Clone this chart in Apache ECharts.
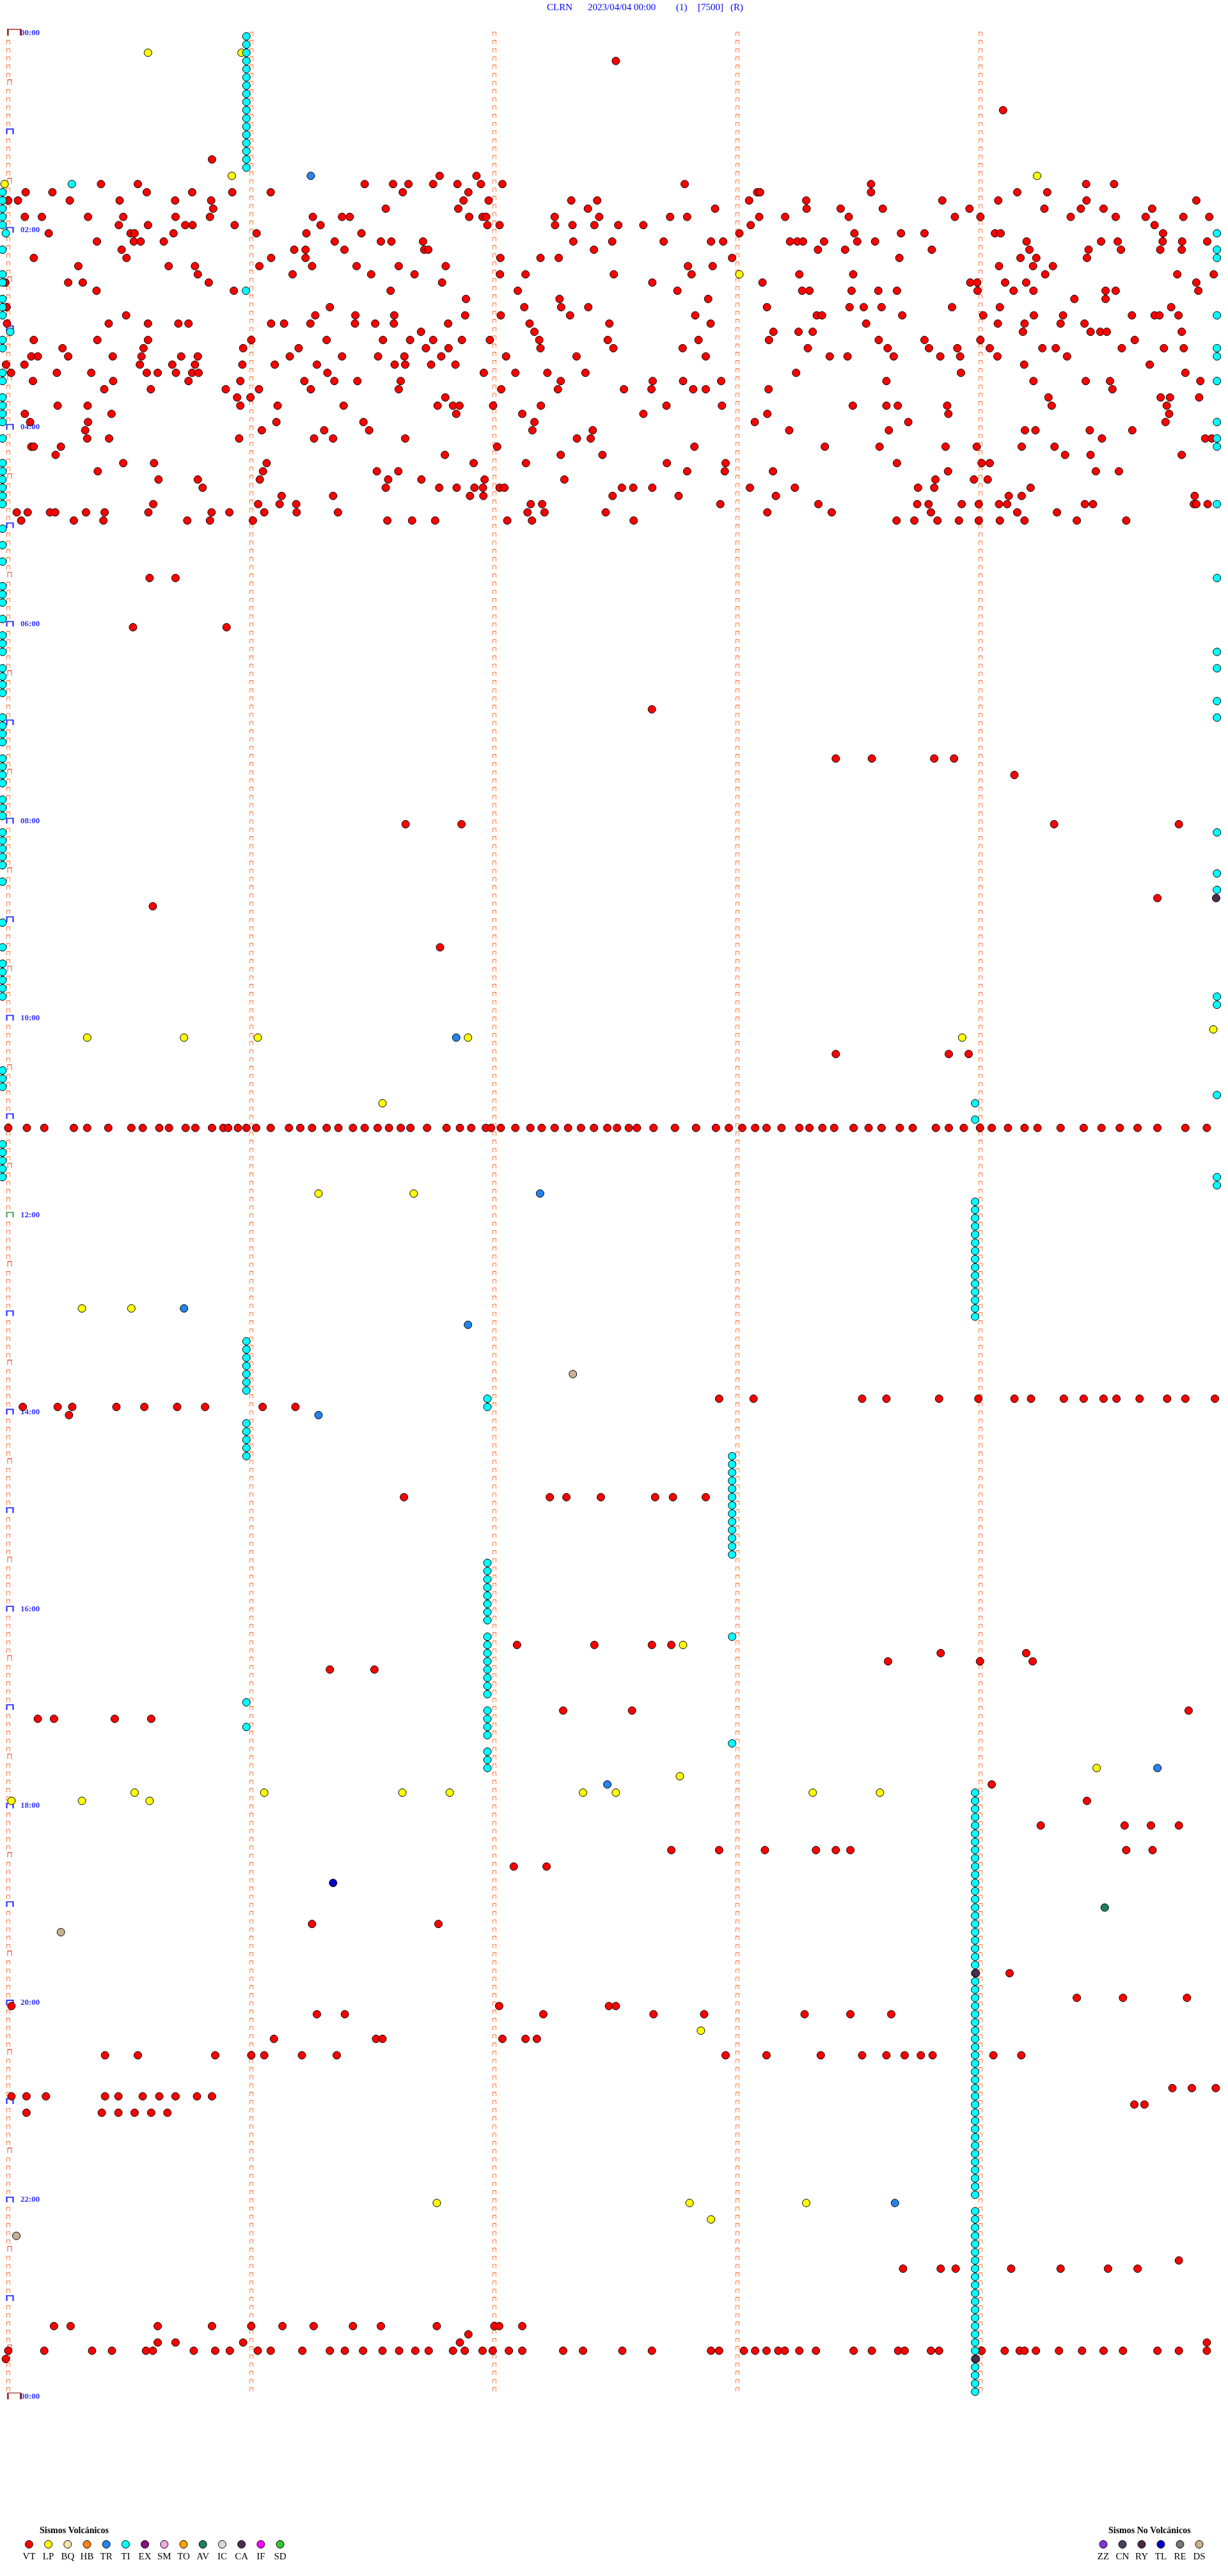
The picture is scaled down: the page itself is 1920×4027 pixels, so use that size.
<!DOCTYPE html>
<html><head><meta charset="utf-8">
<script src="https://cdn.jsdelivr.net/npm/echarts@6/dist/echarts.min.js"></script>
<style>html,body{margin:0;padding:0;background:#fff}#c{width:1920px;height:4027px}</style>
</head><body><div id="c"></div>
<script>
// ---- DATA ----
// Each helicorder line covers 5 minutes (300 s); 288 lines per day.
// Event lists: [lineIndex, second, second, ...]
const TITLE_PARTS = ['CLRN', '2023/04/04 00:00', '(1)', '[7500]', '(R)'];
const HOUR_LABELS = ['00:00','02:00','04:00','06:00','08:00','10:00','12:00','14:00','16:00','18:00','20:00','22:00','00:00'];
const LINES_PER_DAY = 288;
const LINE_SECONDS = 300;

const VT = [
 [3,151.4],[9,247],[15,51.7],
 [17,107.9,117.0],
 [18,24.3,33.4,89.4,96.4,100.2,106.3,112.3,118.1,123.4,168.4,214.4,267.5,274.4],
 [19,5.7,12.3,35.6,46.8,56.7,66.2,98.8,115.0,186.3,187.0,214.4,250.5,257.9],
 [20,1.4,3.8,16.6,28.9,42.6,51.5,113.8,120.0,140.4,146.8,184.3,198.4,232.0,245.8,267.6,294.7],
 [21,52.0,94.6,112.5,144.5,175.9,198.5,206.9,217.3,238.7,257.2,266.2,271.8,283.8],
 [22,5.5,9.7,21.1,29.8,42.7,51.2,76.6,83.8,85.7,115.2,118.5,119.4,136.3,147.3,164.8,169.0,186.8,193.2,208.9,235.1,241.4,263.7,274.8,282.2,291.5,297.9],
 [23,28.7,35.9,45.1,46.9,57.3,78.5,119.7,122.7,136.4,140.7,146.1,152.0,158.2,184.7,284.4],
 [24,11.4,31.6,32.6,42.2,62.7,75.0,88.6,181.9,210.3,221.8,227.6,245.0,246.4,286.5],
 [25,23.3,32.4,34.1,39.8,82.0,93.4,96.0,103.8,140.9,150.5,163.2,174.9,177.9,194.4,196.2,197.6,202.8,211.0,215.4,252.8,271.2,275.3,286.4,291.2,297.4],
 [26,29.4,72.0,74.8,84.4,104.1,105.1,146.0,201.3,208.0,229.4,253.5,268.1,276.1,285.8,291.1],
 [27,7.7,30.6,66.3,74.8,122.9,132.8,137.3,180.1,221.4,251.3,255.2,267.7],
 [28,18.7,41.0,47.5,63.4,76.4,87.4,97.8,109.4,169.2,175.3,246.0,254.4,259.3],
 [29,48.2,71.6,91.0,101.7,122.8,129.1,150.9,170.1,196.7,210.0,257.4,290.0,299.0],
 [30,0.7,16.2,19.8,50.9,108.5,160.4,187.6,238.9,240.6,247.5,252.7,294.7],
 [31,23.2,57.1,95.8,127.2,166.6,197.4,199.2,209.6,216.2,220.8,240.7,249.6,254.5,272.3,274.8,295.2],
 [32,114.4,137.5,174.2,264.6,272.3],
 [33,1.0,80.8,128.8,137.9,144.6,188.7,209.1,212.6,217.0,234.4,246.2,288.5],
 [34,30.5,77.2,87.1,96.7,114.2,123.0,140.1,171.0,201.0,202.3,222.1,242.1,254.6,261.8,278.8,284.4,285.6,290.3],
 [35,1.1,26.2,35.9,43.4,45.9,66.3,69.5,76.0,87.0,92.0,96.6,110.0,130.1,149.8,174.8,213.2,245.7,252.3,261.2,267.1],
 [36,103.3,131.3,190.3,196.5,200.0,251.9,268.6,271.0,272.6,291.1],
 [37,7.7,23.4,35.9,61.4,80.0,93.9,100.6,106.3,113.4,120.3,132.5,149.4,171.8,189.2,216.3,227.6,241.4,279.5],
 [38,14.8,34.8,59.4,73.1,104.5,110.1,132.8,150.8,167.9,198.8,218.5,228.7,235.7,243.7,256.7,260.0,276.3,286.7,291.6],
 [39,7.1,8.7,16.2,27.2,34.3,44.1,48.2,70.9,83.8,92.7,99.2,108.3,124.3,141.7,173.6,204.2,208.6,220.0,231.5,236.4,245.6,262.8],
 [40,0.85,5.4,33.9,41.9,47.5,59.2,67.2,77.6,96.8,99.4,105.8,111.8,252.2,283.2],
 [41,2.1,13.4,21.9,35.6,38.3,42.8,46.8,48.4,80.2,118.8,126.6,134.5,143.9,195.9,236.6,292.0],
 [42,7.5,27.3,45.9,58.7,74.5,81.9,87.6,98.3,137.8,160.5,168.0,177.4,218.2,254.5,267.4,273.4,295.7],
 [43,25.1,36.6,55.1,63.3,76.1,97.8,123.1,137.1,153.4,160.2,170.5,173.6,189.1,274.0],
 [44,57.9,61.2,109.3,258.2,285.9,288.2,295.4],
 [45,13.6,21.0,58.7,67.9,84.2,107.4,111.2,112.8,121.1,132.9,163.9,177.6,209.9,218.2,221.0,233.2,259.0,287.4],
 [46,5.5,26.9,112.0,128.3,158.2,188.8,233.5,288.0],
 [47,6.8,21.1,67.6,89.1,131.3,185.7,223.6,287.1],
 [48,20.4,64.0,79.4,90.5,130.8,145.7,194.2,218.8,252.4,255.0,268.4,278.9],
 [49,20.9,26.3,58.4,76.9,81.6,99.4,141.8,145.2,271.4,296.9,298.5],
 [50,7.1,7.7,14.4,122.1,170.8,203.0,216.5,232.8,240.5,251.6,259.7],
 [51,13.1,109.2,137.8,148.1,262.3,268.6,291.1],
 [52,29.8,37.4,65.2,116.3,129.2,164.0,178.5,220.8,241.7,243.7],
 [53,23.5,64.3,92.4,97.7,169.0,178.3,190.2,233.4,269.9,275.6],
 [54,38.5,48.2,63.5,95.2,103.4,119.0,138.7,230.3,239.8,243.2],
 [55,49.4,94.6,107.8,112.1,116.5,118.6,122.7,123.9,152.9,155.7,160.4,184.5,195.6,226.0,230.0,253.8],
 [56,68.9,81.6,115.4,118.7,150.6,166.9,190.9,248.4,251.6,294.3],
 [57,37.2,63.1,68.4,72.5,130.4,133.2,177.2,201.4,225.8,228.6,236.8,241.0,246.0,248.0,267.2,269.2,294.1,294.7,297.5],
 [58,3.5,6.2,11.7,13.0,20.6,25.2,36.0,51.6,56.0,64.6,72.6,82.8,129.6,133.8,148.9,188.8,204.7,229.2,250.5,260.3],
 [59,4.6,17.6,24.9,45.6,51.2,61.8,95.0,101.1,106.8,124.6,130.7,155.8,220.7,225.1,230.8,236.1,241.0,246.2,252.3,265.2,277.4],
 [66,36.3,42.7],[72,32.2,55.3],[82,160.3],[88,205.7,214.6,230.0,234.9],[90,249.8],
 [96,99.5,113.3,259.6,290.4],[105,285.1],[106,37.1],[111,108.0],[124,205.7,233.6,238.5],
 [133,1.4,6.0,10.3,17.6,20.9,26.1,31.8,34.6,38.7,41.1,45.2,47.6,51.7,54.5,55.7,58.1,60.2,62.6,66.2,70.7,73.5,76.4,80.0,82.9,86.5,89.4,92.6,95.4,98.3,100.7,104.8,109.6,112.9,115.7,119.3,120.6,123.0,126.6,130.3,133.1,136.3,139.6,142.8,146.0,149.3,151.7,154.6,156.6,160.7,166.0,171.2,176.1,179.3,182.6,185.8,188.6,192.3,196.7,199.2,202.4,205.3,210.1,213.8,217.0,221.5,224.7,230.4,233.6,237.3,241.3,244.2,248.2,252.3,255.5,261.2,266.9,271.3,275.8,280.2,285.1,292.0,297.3],
 [166,176.9,185.4,212.2,218.2,231.2,240.9,249.8,253.9,262.0,266.9,271.8,275.0,280.7,287.5,292.0,299.3],
 [167,5.0,13.6,17.2,28.1,35.0,43.1,50.0,64.2,72.3],
 [168,16.4],
 [178,99.1,135.1,139.2,147.7,161.1,165.5,173.6],
 [196,127.0,146.1,160.3,165.1],[197,231.6,252.7],[198,218.6,241.3,254.3],[199,80.8,91.8],
 [204,138.4,155.4,292.8],[205,8.7,12.7,27.7,36.7],[213,244.2],[215,267.7],
 [218,256.3,277.0,283.5,290.4],[221,165.1,176.9,188.2,200.8,205.7,209.3,277.4,283.9],[223,126.2,134.3],
 [230,76.4,107.6],[236,248.6],[239,265.2,276.6,292.4],[240,2.2,122.6,149.7,151.4],
 [241,77.6,84.5,133.5,160.7,173.2,198.0,209.3,219.4],[244,67.0,92.2,93.8,123.4,129.1,131.9],
 [246,25.3,33.4,52.5,61.4,64.6,73.9,82.5,178.5,188.6,202.0,212.2,218.2,222.7,226.7,229.6,244.6,251.5],
 [250,288.8,293.6,299.5],[251,2.2,5.9,10.7,25.3,28.6,34.6,38.7,42.7,48.0,51.7],[252,279.4,281.9],
 [253,5.9,24.5,28.6,32.6,36.7,40.7],
 [271,290.4],[272,222.3,231.6,235.3,249.0,261.2,272.9,280.2],
 [279,12.7,16.8,38.3,51.7,61.4,69.1,76.8,86.5,93.4,107.2,121.4,122.6,128.3],
 [280,115.0],[281,38.3,42.7,59.4,112.9,297.3],
 [282,1.4,10.3,22.1,27.0,35.4,37.1,47.2,52.5,56.1,63.0,66.2,74.0,80.8,84.5,89.0,93.8,97.9,101.9,105.2,111.2,114.1,118.5,121.0,125.0,128.3,138.4,143.3,153.0,160.3,174.9,176.9,183.0,185.8,188.6,191.5,193.1,196.7,200.8,210.1,214.6,221.1,222.7,229.2,231.2,241.7,247.4,251.1,252.3,255.1,260.8,266.5,271.8,276.6,285.1,290.4,297.3],
 [283,0.8]
];
const LP = [
 [2,35.9,59.0],[17,56.6,255.4],[18,0.5],[29,181.9],
 [121,298.9],[122,20.9,44.8,63.0,114.9,236.9],[130,93.8],[141,78.0,101.5],[155,19.6,31.8],
 [196,168.0],[211,270.1],[212,167.2],[214,32.6,64.6,98.7,110.4,143.3,151.4,200.0,216.6],[215,2.2,19.6,36.3],
 [243,172.4],[264,107.2,169.6,198.4],[266,174.9]
];
const TR = [
 [17,76.1],[122,112.0],[141,132.7],[155,44.8],[157,114.9],[168,78.0],[211,285.1],[213,149.3],[264,220.3]
];
const TL = [ [225,81.6] ];
const AV = [ [228,272.1] ];
const CA = [ [105,299.6],[236,240.3],[283,240.3] ];
const DS = [ [163,140.8],[231,14.4],[268,3.4] ];
const TI = [
 [0,60.2],[1,60.2],[2,60.2],[3,60.2],[4,60.2],[5,60.2],[6,60.2],[7,60.2],[8,60.2],[9,60.2],[10,60.2],[11,60.2],[12,60.2],[13,60.2],[14,60.2],[15,60.2],[16,60.2],
 [18,17.1],[19,0],[20,0],[21,0],[22,0],[23,0],[24,0.8,299.8],[26,0,299.8],[27,299.8],[29,0],[30,0],[31,60.1],
 [32,0],[33,0],[34,0,299.8],[36,1.9],[37,0],[38,0,299.8],[39,299.8],[41,0],[42,0,299.8],[44,0],[45,0],[46,0],
 [47,0,299.8],[49,0,299.8],[50,299.8],[52,0],[53,0],[54,0],[55,0],[56,0],[57,0,299.8],
 [60,0],[62,0],[64,0],[66,299.8],[67,0],[68,0],[69,0],[71,0],[73,0],[74,0],[75,0,299.8],[77,0,299.8],[78,0],[79,0],[80,0],
 [81,299.8],[83,0,299.8],[84,0],[85,0],[86,0],[88,0],[89,0],[90,0],[91,0],[93,0],[94,0],[95,0],[97,0,299.8],[98,0],[99,0],
 [100,0],[101,0],[102,299.8],[103,0],[104,299.8],[108,0],[111,0],[113,0],[114,0],[115,0],[116,0],[117,0,299.8],[118,299.8],
 [126,0],[127,0],[128,0],[129,299.8],[130,240.1],[132,240.1],[135,0],[136,0],[137,0],[138,0],[139,0,299.8],[140,299.8],
 [142,240.1],[143,240.1],[144,240.1],[145,240.1],[146,240.1],[147,240.1],[148,240.1],[149,240.1],[150,240.1],[151,240.1],[152,240.1],[153,240.1],[154,240.1],[155,240.1],[156,240.1],
 [159,60.2],[160,60.2],[161,60.2],[162,60.2],[163,60.2],[164,60.2],[165,60.2],[166,119.7],[167,119.7],
 [169,60.2],[170,60.2],[171,60.2],[172,60.2],[173,60.2,180.1],[174,180.1],[175,180.1],[176,180.1],[177,180.1],[178,180.1],[179,180.1],[180,180.1],[181,180.1],[182,180.1],[183,180.1],[184,180.1],[185,180.1],
 [186,119.7],[187,119.7],[188,119.7],[189,119.7],[190,119.7],[191,119.7],[192,119.7],[193,119.7],[195,119.7,180.1],[196,119.7],[197,119.7],[198,119.7],[199,119.7],[200,119.7],[201,119.7],[202,119.7],
 [203,60.2],[204,119.7],[205,119.7],[206,60.2,119.7],[207,119.7],[208,180.1],[209,119.7],[210,119.7],[211,119.7],
 [214,240.1],[215,240.1],[216,240.1],[217,240.1],[218,240.1],[219,240.1],[220,240.1],[221,240.1],[222,240.1],[223,240.1],
 [224,240.1],[225,240.1],[226,240.1],[227,240.1],[228,240.1],[229,240.1],[230,240.1],[231,240.1],[232,240.1],[233,240.1],
 [234,240.1],[235,240.1],[236,240.1],[237,240.1],[238,240.1],[239,240.1],[240,240.1],[241,240.1],[242,240.1],[243,240.1],
 [244,240.1],[245,240.1],[246,240.1],[247,240.1],[248,240.1],[249,240.1],[250,240.1],[251,240.1],[252,240.1],[253,240.1],
 [254,240.1],[255,240.1],[256,240.1],[257,240.1],[258,240.1],[259,240.1],[260,240.1],[261,240.1],[262,240.1],[263,240.1],
 [265,240.1],[266,240.1],[267,240.1],[268,240.1],[269,240.1],[270,240.1],[271,240.1],[272,240.1],[273,240.1],[274,240.1],
 [275,240.1],[276,240.1],[277,240.1],[278,240.1],[279,240.1],[280,240.1],[281,240.1],[282,240.1],[283,240.1],[284,240.1],
 [285,240.1],[286,240.1],[287,240.1]
];

const LEGEND_VOLC = ['VT','LP','BQ','HB','TR','TI','EX','SM','TO','AV','IC','CA','IF','SD'];
const LEGEND_NOVOLC = ['ZZ','CN','RY','TL','RE','DS'];
const COLORS = {
 VT:'#ff0000', LP:'#ffff00', BQ:'#efe6a8', HB:'#ff8418', TR:'#2484ec', TI:'#00ffff', EX:'#86107e',
 SM:'#eeaae4', TO:'#ffa408', AV:'#1e7e60', IC:'#d6dada', CA:'#4e2c4c', IF:'#ff00ff', SD:'#30c830',
 ZZ:'#8434d4', CN:'#4c3c5c', RY:'#4c2844', TL:'#0000c8', RE:'#6e7a6e', DS:'#c8b090'
};

// ---- BUILD ----
function flat(list){ const out=[]; list.forEach(r=>{ for(let i=1;i<r.length;i++) out.push([r[i], r[0]]); }); return out; }

const chart = echarts.init(document.getElementById('c'), null, {renderer:'canvas', width:1920, height:4027});
const SERIF = '"Liberation Serif","Times New Roman",serif';

const minuteMarks = [];
for (let r = 0; r < LINES_PER_DAY; r++) for (let m = 0; m < 5; m++) {
  if (m === 0 && r % 6 === 0) continue;
  minuteMarks.push([m * 60 + 1.42, r]);
}
const hourMarks = [], noonMarks = [], halfMarks = [], dayMarks = [];
for (let r = 0; r <= LINES_PER_DAY; r += 6) {
  if (r === 0 || r === LINES_PER_DAY) dayMarks.push([2.9, r]);
  else if (r === LINES_PER_DAY / 2) noonMarks.push([1.82, r]);
  else if (r % 12 === 0) hourMarks.push([1.82, r]);
  else halfMarks.push([1.74, r]);
}
const labelPts = HOUR_LABELS.map((t, i) => ({ value: [4.42, i * 24], name: t }));

const BR = 'path://M0,10 L0,0 L10,0 L10,10';
function evSeries(name, list, z){
  return { type:'scatter', name, data: flat(list), symbol:'circle', symbolSize:12, z, silent:true,
    itemStyle:{ color: COLORS[name], borderColor:'#000', borderWidth:1, opacity:1 } };
}
function bracket(data, size, off, color, w){
  return { type:'scatter', data, symbol:BR, symbolSize:size, symbolOffset:off, symbolKeepAspect:false, z:1, silent:true,
    itemStyle:{ color:'rgba(0,0,0,0)', borderColor:color, borderWidth:w } };
}

const series = [
  bracket(minuteMarks, [5,6], [0,-3.5], '#ff5000', 1),
  bracket(halfMarks, [6,8], [0,-5], '#ff2000', 1.2),
  bracket(hourMarks, [10,8], [0,-5], '#0000ff', 2),
  bracket(noonMarks, [10,8], [0,-5], '#2e8b2e', 2),
  bracket(dayMarks, [20,10], [0,-6], '#8b0000', 2),
  { type:'scatter', data:labelPts, symbolSize:0, z:2, silent:true,
    label:{ show:true, position:'right', distance:0, offset:[0,-5], formatter: p => p.name,
      fontFamily:SERIF, fontWeight:'bold', fontSize:13, color:'#0000ff' } },
  evSeries('VT', VT, 3),
  evSeries('DS', DS, 4),
  evSeries('AV', AV, 4),
  evSeries('LP', LP, 4),
  evSeries('TR', TR, 5),
  evSeries('TL', TL, 5),
  evSeries('TI', TI, 6),
  evSeries('CA', CA, 7)
];

const g = [];
const TITLE_X = [855, 919, 1057, 1091, 1142];
TITLE_PARTS.forEach((t, i) => {
  g.push({ type:'text', left: TITLE_X[i], top: 5, style:{ text:t, font:'15px ' + SERIF, fill:'#0000ff' } });
});
g.push({ type:'text', left: 62, top: 3949, style:{ text:'Sismos Volcánicos', font:'bold 14px ' + SERIF, fill:'#000' } });
LEGEND_VOLC.forEach((k, i) => {
  const cx = 45.4 + i * 30.2;
  g.push({ type:'circle', shape:{ cx, cy:3977.5, r:6 }, style:{ fill:COLORS[k], stroke:'#000', lineWidth:1 } });
  g.push({ type:'text', x: cx, y: 3997, style:{ text:k, font:'15px ' + SERIF, fill:'#000', textAlign:'center', textVerticalAlign:'middle', align:'center', verticalAlign:'middle' } });
});
g.push({ type:'text', left: 1733, top: 3949, style:{ text:'Sismos No Volcánicos', font:'bold 14px ' + SERIF, fill:'#000' } });
LEGEND_NOVOLC.forEach((k, i) => {
  const cx = 1725 + i * 30;
  g.push({ type:'circle', shape:{ cx, cy:3977.5, r:6 }, style:{ fill:COLORS[k], stroke:'#000', lineWidth:1 } });
  g.push({ type:'text', x: cx, y: 3997, style:{ text:k, font:'15px ' + SERIF, fill:'#000', textAlign:'center', textVerticalAlign:'middle', align:'center', verticalAlign:'middle' } });
});

chart.setOption({
  animation:false,
  backgroundColor:'#ffffff',
  grid:{ left:4, top:56.8, width:1900, height:LINES_PER_DAY * 12.83 },
  xAxis:{ type:'value', min:0, max:LINE_SECONDS, show:false },
  yAxis:{ type:'value', min:0, max:LINES_PER_DAY, inverse:true, show:false },
  series,
  graphic:g
});
</script></body></html>
